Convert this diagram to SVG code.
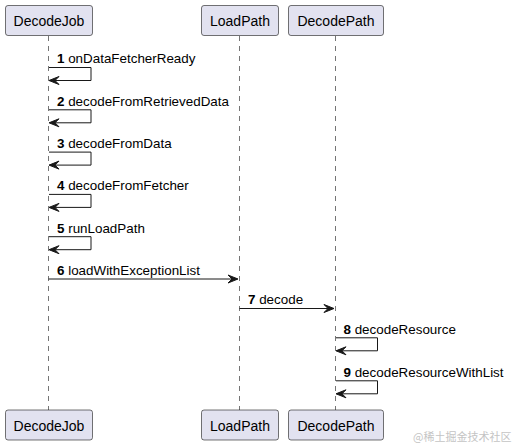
<svg xmlns="http://www.w3.org/2000/svg" width="514" height="445" viewBox="0 0 514 445">
<style>
.box{fill:#E2E2F0;stroke:#181818;stroke-width:0.6}
.pt{font-family:"Liberation Sans",Arial,sans-serif;font-size:14px;fill:#000}
.life{stroke:#181818;stroke-width:0.6;stroke-dasharray:5,5;fill:none}
.msg{stroke:#181818;stroke-width:1;fill:none}
.head{fill:#181818;stroke:#181818;stroke-width:1}
.lbl{font-family:"Liberation Sans",Arial,sans-serif;font-size:13.4px;fill:#000}
.num{font-weight:bold}
.wm{font-family:"Noto Sans CJK SC","Liberation Sans",sans-serif;font-size:11px;fill:#c4c4c4}
</style>
<rect width="514" height="445" fill="#fff"/>
<g id="lifelines">
<line class="life" x1="48.5" y1="36" x2="48.5" y2="410"/>
<line class="life" x1="239.5" y1="36" x2="239.5" y2="410"/>
<line class="life" x1="335.5" y1="36" x2="335.5" y2="410"/>
</g>
<g id="DecodeJob">
<rect class="box" x="5.5" y="5.5" width="87" height="30" rx="2.5"/>
<text class="pt" x="49" y="26" text-anchor="middle">DecodeJob</text>
<rect class="box" x="5.5" y="410" width="87" height="30" rx="2.5"/>
<text class="pt" x="49" y="430.5" text-anchor="middle">DecodeJob</text>
</g>
<g id="LoadPath">
<rect class="box" x="201.5" y="5.5" width="77" height="30" rx="2.5"/>
<text class="pt" x="240" y="26" text-anchor="middle">LoadPath</text>
<rect class="box" x="201.5" y="410" width="77" height="30" rx="2.5"/>
<text class="pt" x="240" y="430.5" text-anchor="middle">LoadPath</text>
</g>
<g id="DecodePath">
<rect class="box" x="288.5" y="5.5" width="95" height="30" rx="2.5"/>
<text class="pt" x="336" y="26" text-anchor="middle">DecodePath</text>
<rect class="box" x="288.5" y="410" width="95" height="30" rx="2.5"/>
<text class="pt" x="336" y="430.5" text-anchor="middle">DecodePath</text>
</g>
<g id="connectors">
<polyline class="msg" points="49,67.5 91,67.5 91,80.5 50,80.5"/>
<polygon class="head" points="59,76.5 49,80.5 59,84.5 55,80.5"/>
<text class="lbl" x="57" y="63.3"><tspan class="num">1</tspan> onDataFetcherReady</text>

<polyline class="msg" points="49,109.8 91,109.8 91,122.8 50,122.8"/>
<polygon class="head" points="59,118.8 49,122.8 59,126.8 55,122.8"/>
<text class="lbl" x="57" y="105.6"><tspan class="num">2</tspan> decodeFromRetrievedData</text>

<polyline class="msg" points="49,152.1 91,152.1 91,165.1 50,165.1"/>
<polygon class="head" points="59,161.1 49,165.1 59,169.1 55,165.1"/>
<text class="lbl" x="57" y="147.9"><tspan class="num">3</tspan> decodeFromData</text>

<polyline class="msg" points="49,194.4 91,194.4 91,207.4 50,207.4"/>
<polygon class="head" points="59,203.4 49,207.4 59,211.4 55,207.4"/>
<text class="lbl" x="57" y="190.2"><tspan class="num">4</tspan> decodeFromFetcher</text>

<polyline class="msg" points="49,236.7 91,236.7 91,249.7 50,249.7"/>
<polygon class="head" points="59,245.7 49,249.7 59,253.7 55,249.7"/>
<text class="lbl" x="57" y="232.5"><tspan class="num">5</tspan> runLoadPath</text>

<line class="msg" x1="48.5" y1="279" x2="237" y2="279"/>
<polygon class="head" points="228,275 238,279 228,283 232,279"/>
<text class="lbl" x="57" y="274.7"><tspan class="num">6</tspan> loadWithExceptionList</text>

<line class="msg" x1="239.5" y1="308.5" x2="333" y2="308.5"/>
<polygon class="head" points="324,304.5 334,308.5 324,312.5 328,308.5"/>
<text class="lbl" x="248" y="304"><tspan class="num">7</tspan> decode</text>

<polyline class="msg" points="336,337.8 377.5,337.8 377.5,350.8 337,350.8"/>
<polygon class="head" points="346,346.8 336,350.8 346,354.8 342,350.8"/>
<text class="lbl" x="343.5" y="333.5"><tspan class="num">8</tspan> decodeResource</text>

<polyline class="msg" points="336,380.8 377.5,380.8 377.5,393.8 337,393.8"/>
<polygon class="head" points="346,389.8 336,393.8 346,397.8 342,393.8"/>
<text class="lbl" x="343.5" y="376.5"><tspan class="num">9</tspan> decodeResourceWithList</text>
</g>
<text class="wm" x="413" y="441">@稀土掘金技术社区</text>
</svg>
